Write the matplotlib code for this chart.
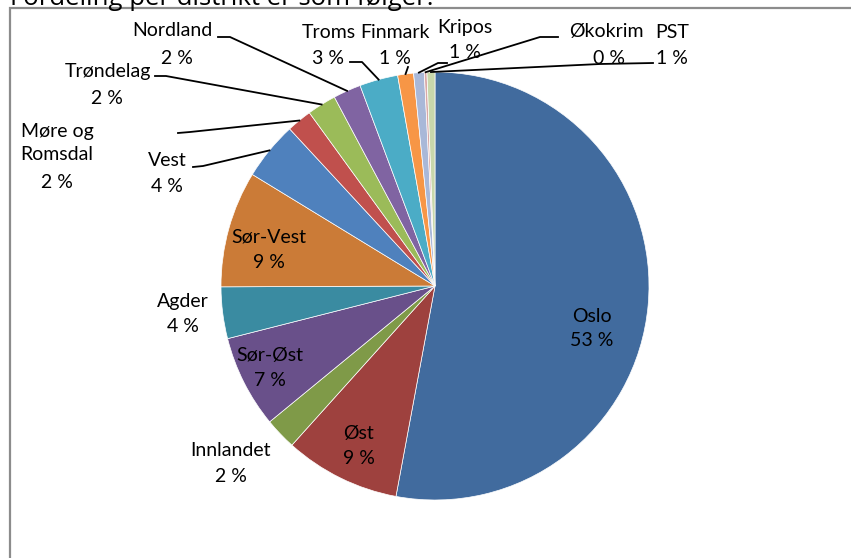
import numpy as np
import matplotlib
matplotlib.use("Agg")
import matplotlib.pyplot as plt
from matplotlib.patches import Rectangle

W, H = 851, 558

# data (clockwise from 12 o'clock)
names = ["Oslo", "Øst", "Innlandet", "Sør-Øst", "Agder", "Sør-Vest", "Vest",
         "Møre og\nRomsdal", "Trøndelag", "Nordland", "Troms", "Finmark",
         "Kripos", "Økokrim", "PST"]
values = [53.0, 8.75, 2.4, 7.0, 3.9, 8.8, 4.4, 1.9, 2.2, 2.1, 2.9, 1.2, 0.8, 0.2, 0.6]
colors = ["#416B9E", "#9E413E", "#7F9A48", "#69508A", "#3A8BA1", "#CB7B37",
          "#4F81BD", "#C0504D", "#9BBB59", "#8064A2", "#4BACC6", "#F79646",
          "#A9B8D8", "#D9A9A8", "#C8D7AB"]

# layout, pixel coords from top-left of the image
center = (435, 286)
radius = 214
frame_top = 8
name_pos = [(592, 316), (359, 433), (231, 450), (270, 355), (183, 302), (269, 237),
            (167, 160), (57, 143), (108, 72), (172, 31), (329, 32), (395, 32),
            (465, 27), (606, 32), (672, 32)]
pct_pos = [(592, 341), (359, 459), (231, 476), (270, 381), (183, 327), (269, 263),
           (167, 187), (57, 182), (107, 98), (177, 58), (328, 58), (395, 58),
           (465, 52), (609, 58), (672, 58)]
leaders = {6: [(193, 167), (203, 166)],
           7: [(178, 133), (190, 132)],
           8: [(155, 76), (166, 76)],
           9: [(218, 37), (230, 37)],
           10: [(350, 62), (362, 62)],
           11: [(408, 67)],
           12: [(447, 63), (438, 63)],
           13: [(558, 37), (540, 37)],
           14: [(653, 63), (600, 64)]}


def px(p):
    return p[0], H - p[1]


plt.rcParams['font.family'] = ['Lato', 'DejaVu Sans']

fig = plt.figure(figsize=(W / 100, H / 100), dpi=100)
ax = fig.add_axes([0, 0, 1, 1])

# frame of the chart area (right and bottom edges fall outside the image)
ax.add_patch(Rectangle((10, -20), W + 20, H - frame_top + 20, fill=False,
                       edgecolor="#8c8c8c", linewidth=1.6))

wedges, _ = ax.pie(values, colors=colors, startangle=90, counterclock=False,
                   center=px(center), radius=radius, frame=True,
                   wedgeprops=dict(edgecolor="white", linewidth=0.5))
ax.set_xlim(0, W)
ax.set_ylim(0, H)
ax.set_aspect('equal')
ax.axis('off')

total = sum(values)
fs = 14
for i, w in enumerate(wedges):
    pct = "%d %%" % round(values[i] / total * 100)
    x, y = px(name_pos[i])
    ax.text(x, y, names[i], ha='center', va='center', fontsize=fs,
            color='black', linespacing=1.45)
    x, y = px(pct_pos[i])
    ax.text(x, y, pct, ha='center', va='center', fontsize=fs, color='black')
    if i in leaders:
        mid = np.deg2rad((w.theta1 + w.theta2) / 2)
        cx, cy = px(center)
        rim = (cx + radius * np.cos(mid), cy + radius * np.sin(mid))
        pts = [px(p) for p in leaders[i]] + [rim]
        ax.plot([p[0] for p in pts], [p[1] for p in pts], color='black', lw=1.3)

# title sits mostly above the image edge, as in the source screenshot
fig.text(10 / W, 1 - 5 / H, "Fordeling per distrikt er som følger:", fontsize=18.5,
         family=['Open Sans', 'DejaVu Sans'], ha='left', va='baseline')

fig.savefig("out.png", dpi=100)
